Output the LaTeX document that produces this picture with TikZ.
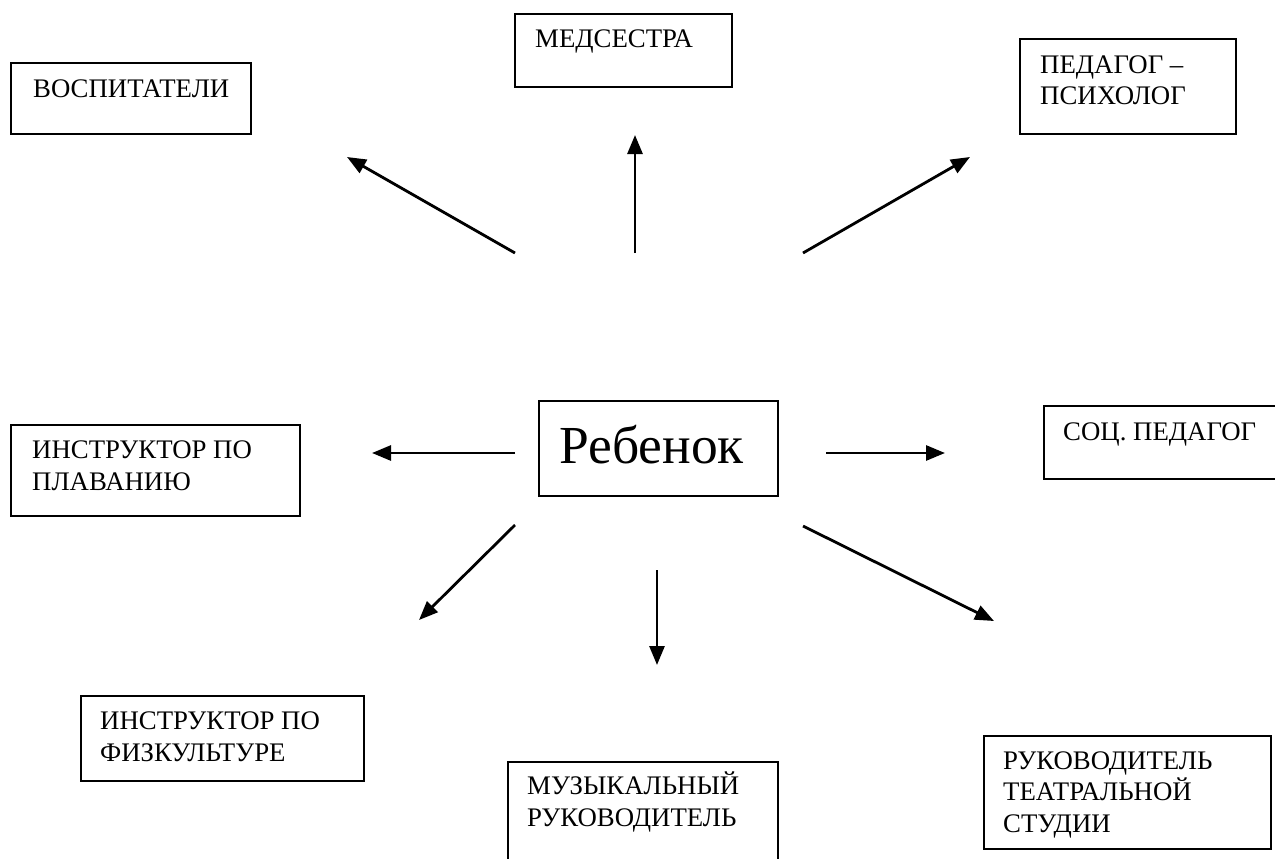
\documentclass[tikz,border=0pt]{standalone}
\usepackage{fontspec}
\setmainfont{Liberation Serif}
\usetikzlibrary{arrows.meta,positioning}

\begin{document}
\begin{tikzpicture}
[x=1pt, y=-1pt,
 staff/.style={rectangle, draw, line width=2pt, anchor=north west, inner sep=0pt},
 staffname/.style={anchor=base west, inner sep=0pt, align=left, font=\fontsize{26.8}{31.5}\selectfont},
 child/.style={rectangle, draw, line width=2pt, minimum width=239pt, minimum height=95pt, text depth=8pt, font=\fontsize{53.5}{56}\selectfont},
 link/.style={-{Triangle[length=19pt, width=15pt]}, line width=2.8pt}]
    \clip (0,0) rectangle (1275,859);
    % the child in the middle
    \node[child] (kid) at (658.5,448.5) {Ребенок\hspace*{14pt}};
    % the staff round it (text nodes sit on the baseline of their last line)
    \node[staff, minimum width=240pt, minimum height=71pt] (vosp) at (10,62) {};
    \node[staffname] (vospname) at ([shift={(23,35)}]vosp.north west) {ВОСПИТАТЕЛИ};
    \node[staff, minimum width=217pt, minimum height=73pt] (med) at (514,13) {};
    \node[staffname] (medname) at ([shift={(21,35)}]med.north west) {МЕДСЕСТРА};
    \node[staff, minimum width=216pt, minimum height=95pt] (ped) at (1019,38) {};
    \node[staffname] (pedname) at ([shift={(21,67)}]ped.north west) {ПЕДАГОГ –\\ПСИХОЛОГ};
    \node[staff, minimum width=289pt, minimum height=91pt] (plav) at (10,424) {};
    \node[staffname] (plavname) at ([shift={(22,66)}]plav.north west) {ИНСТРУКТОР ПО\\ПЛАВАНИЮ};
    \node[staff, minimum width=250pt, minimum height=73pt] (soc) at (1043,405) {};
    \node[staffname] (socname) at ([shift={(20,35)}]soc.north west) {СОЦ. ПЕДАГОГ};
    \node[staff, minimum width=283pt, minimum height=85pt] (fiz) at (80,695) {};
    \node[staffname] (fizname) at ([shift={(20,66)}]fiz.north west) {ИНСТРУКТОР ПО\\ФИЗКУЛЬТУРЕ};
    \node[staff, minimum width=270pt, minimum height=110pt] (muz) at (507,761) {};
    \node[staffname] (muzname) at ([shift={(20,65)}]muz.north west) {МУЗЫКАЛЬНЫЙ\\РУКОВОДИТЕЛЬ};
    \node[staff, minimum width=287pt, minimum height=113pt] (teatr) at (983,735) {};
    \node[staffname] (teatrname) at ([shift={(20,97)}]teatr.north west) {РУКОВОДИТЕЛЬ\\ТЕАТРАЛЬНОЙ\\СТУДИИ};
    % arrows (they stop short of the boxes)
    \coordinate (vospfrom) at (515,253);  \coordinate (vospto) at (347,157);
    \coordinate (medfrom) at (635,253);   \coordinate (medto) at (635,135);
    \coordinate (pedfrom) at (803,253);   \coordinate (pedto) at (970,157);
    \coordinate (plavfrom) at (515,453);  \coordinate (plavto) at (372,453);
    \coordinate (socfrom) at (826,453);   \coordinate (socto) at (945,453);
    \coordinate (fizfrom) at (515,525);   \coordinate (fizto) at (419,620);
    \coordinate (muzfrom) at (657,570);   \coordinate (muzto) at (657,665);
    \coordinate (teatrfrom) at (803,526); \coordinate (teatrto) at (994,621);
    \draw[link] (vospfrom) -- (vospto);
    \draw[link] (medfrom) -- (medto);
    \draw[link] (pedfrom) -- (pedto);
    \draw[link] (plavfrom) -- (plavto);
    \draw[link] (socfrom) -- (socto);
    \draw[link] (fizfrom) -- (fizto);
    \draw[link] (muzfrom) -- (muzto);
    \draw[link] (teatrfrom) -- (teatrto);
\end{tikzpicture}
\end{document}
